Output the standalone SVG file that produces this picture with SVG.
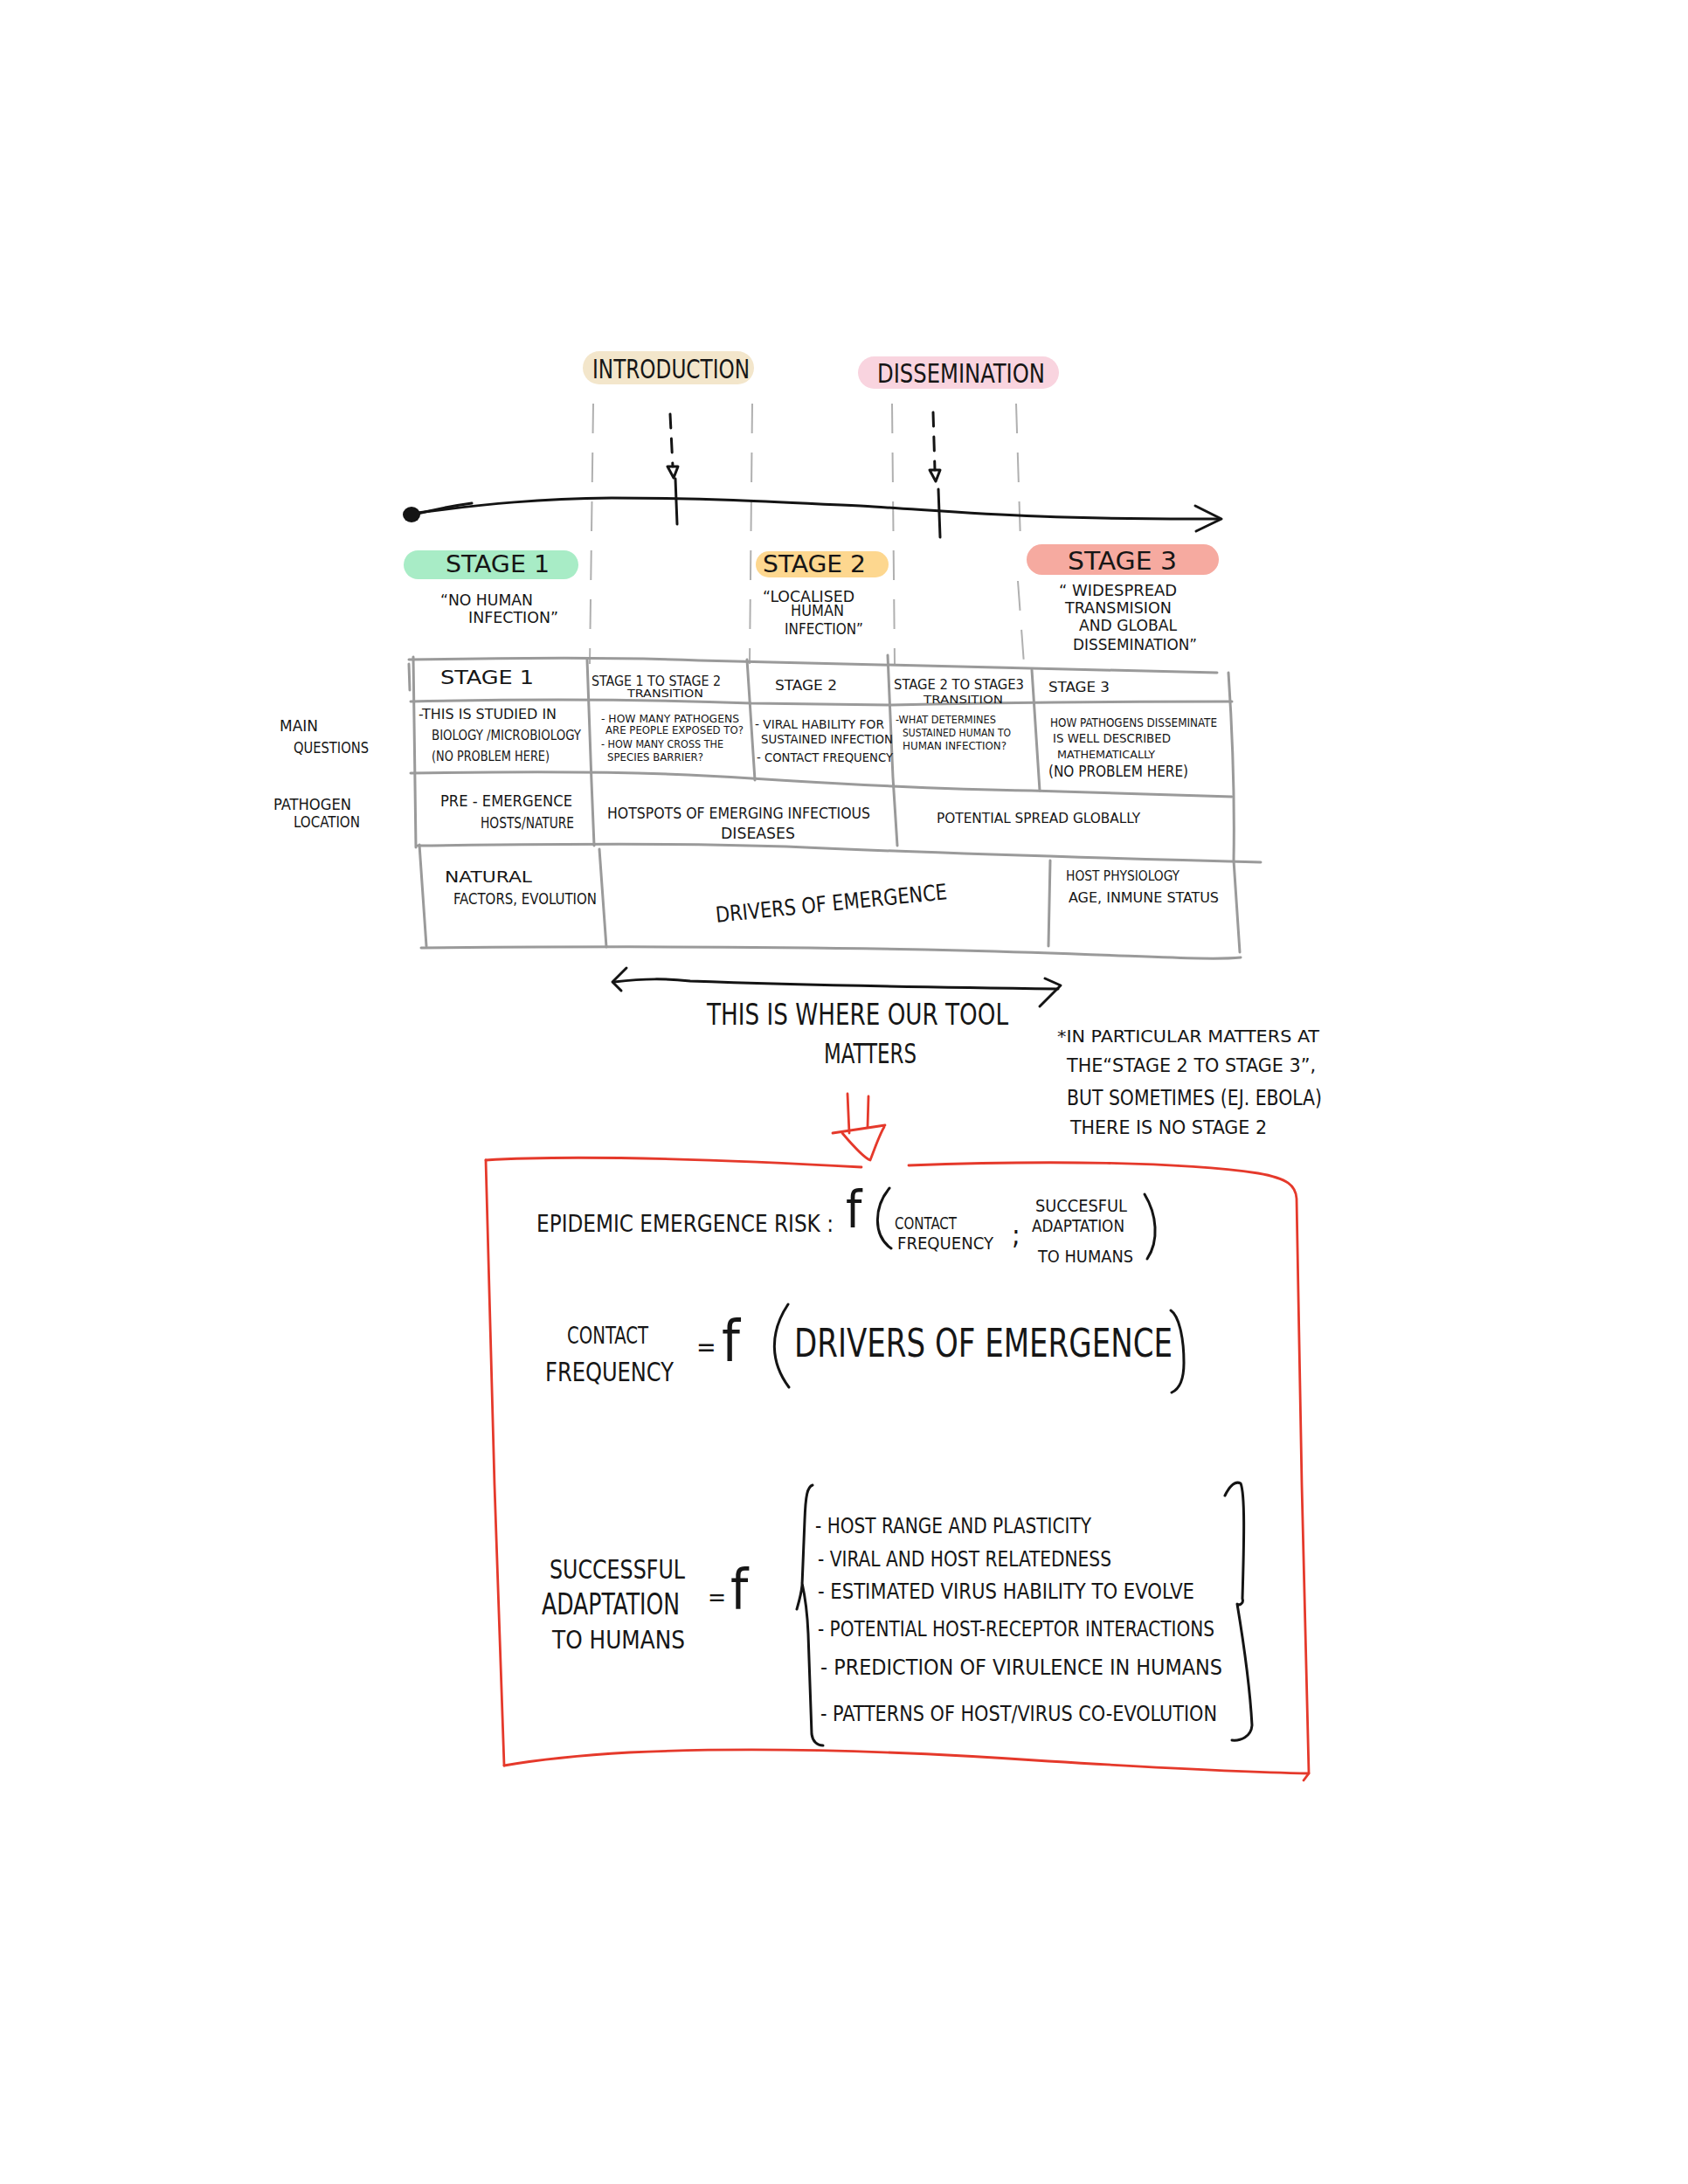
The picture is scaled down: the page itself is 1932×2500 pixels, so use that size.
<svg xmlns="http://www.w3.org/2000/svg" width="1932" height="2500" viewBox="0 0 1932 2500">
<defs>
<style>
.t{font-family:"Liberation Sans Narrow","DejaVu Sans Condensed","Liberation Sans",sans-serif;fill:#161616;}
.grid{fill:none;stroke:#9a9a9a;stroke-width:3;stroke-linecap:round;stroke-linejoin:round;}
.dash{fill:none;stroke:#b0b0b0;stroke-width:2;stroke-dasharray:34 22;}
.ink{fill:none;stroke:#141414;stroke-width:3;stroke-linecap:round;stroke-linejoin:round;}
.red{fill:none;stroke:#e5392b;stroke-width:2.8;stroke-linecap:round;stroke-linejoin:round;}
.pill{stroke:none;}
</style>
</defs>
<rect width="1932" height="2500" fill="#ffffff"/>

<g id="connectors">
  <!-- dashed phase guides -->
  <path class="dash" d="M679,462 L675,760"/>
  <path class="dash" d="M861,462 L858,760"/>
  <path class="dash" d="M1021,462 L1024,760"/>
  <path class="dash" d="M1163,462 L1168,620 M1165,665 L1172,760"/>
  <!-- timeline -->
  <path class="ink" d="M470,588 C560,576 620,571 700,570 C820,570 900,575 1000,580 C1100,586 1180,595 1396,594" stroke-width="3.5"/>
  <path class="ink" d="M470,590 C490,585 510,580 540,576" stroke-width="6"/>
  <ellipse cx="471" cy="589" rx="10" ry="9" fill="#141414"/>
  <path class="ink" d="M1368,579 L1398,594 L1369,608"/>
  <path class="ink" d="M773,548 L775,600"/>
  <path class="ink" d="M1074,560 L1076,615"/>
  <!-- dashed markers -->
  <path class="ink" d="M767,474 L770,534" stroke-dasharray="16 12" stroke-width="2.5"/>
  <path class="ink" d="M764,534 L776,534 L771,547 Z" stroke-width="2.2"/>
  <path class="ink" d="M1068,472 L1070,538" stroke-dasharray="16 12" stroke-width="2.5"/>
  <path class="ink" d="M1064,538 L1076,538 L1071,551 Z" stroke-width="2.2"/>
  <!-- table grid -->
  <path class="grid" d="M468,755 C600,753 700,752 800,756 C950,760 1100,762 1393,770"/>
  <path class="grid" d="M470,803 C650,799 780,802 860,805 L1020,807 C1200,803 1320,803 1410,803"/>
  <path class="grid" d="M470,885 C650,882 760,884 860,891 C1000,900 1100,904 1180,905 L1410,912"/>
  <path class="grid" d="M478,968 C650,966 780,965 900,969 C1050,976 1250,982 1443,987"/>
  <path class="grid" d="M482,1085 C700,1083 900,1083 1100,1088 C1300,1093 1380,1100 1420,1096"/>
  <path class="grid" d="M473,752 L476,970 M468,760 L469,790"/>
  <path class="grid" d="M480,967 L488,1083"/>
  <path class="grid" d="M1406,770 C1412,860 1413,930 1412,985 L1419,1090"/>
  <path class="grid" d="M672,755 L677,895 L680,968"/>
  <path class="grid" d="M686,972 L694,1084"/>
  <path class="grid" d="M855,755 L864,893"/>
  <path class="grid" d="M1016,750 L1022,890 L1027,968"/>
  <path class="grid" d="M1181,767 L1190,905"/>
  <path class="grid" d="M1202,985 L1200,1083"/>
  <!-- double arrow -->
  <path class="ink" d="M703,1124 C740,1120 760,1120 790,1123 C900,1127 1050,1130 1211,1132"/>
  <path class="ink" d="M717,1108 L701,1124 L711,1134"/>
  <path class="ink" d="M1196,1120 L1214,1128 L1190,1152"/>
  <!-- red arrow -->
  <path class="red" d="M970,1252 L972,1297 M994,1255 L993,1290"/>
  <path class="red" d="M953,1297 L1013,1288"/>
  <path class="red" d="M964,1297 C975,1310 988,1325 996,1328 C1000,1318 1006,1300 1012,1290"/>
  <!-- red box -->
  <path class="red" d="M556,1328 C650,1322 800,1326 986,1336"/>
  <path class="red" d="M1040,1334 C1200,1328 1350,1330 1440,1343 C1474,1349 1483,1357 1484,1372 L1490,1700 L1498,2030 L1492,2038"/>
  <path class="red" d="M1498,2030 C1400,2028 1300,2022 1200,2016 C1000,2002 850,2000 720,2006 C650,2010 600,2017 577,2021"/>
  <path class="red" d="M556,1328 L566,1700 L577,2021"/>
  <!-- brackets -->
  <path class="ink" d="M1018,1360 C1000,1382 999,1414 1020,1429" stroke-width="2.5"/>
  <path class="ink" d="M1310,1367 C1324,1390 1327,1420 1313,1441" stroke-width="2.5"/>
  <path class="ink" d="M902,1493 C880,1526 882,1560 903,1588" stroke-width="2.5"/>
  <path class="ink" d="M1340,1500 C1349,1506 1355,1530 1355,1560 C1355,1580 1350,1590 1341,1594" stroke-width="2.5"/>
  <path class="ink" d="M930,1700 C924,1702 922,1712 921,1740 L918,1815 C917,1825 914,1835 912,1842 M918,1812 C922,1830 924,1845 925,1870 L929,1985 C930,1993 935,1998 942,1998" stroke-width="2.5"/>
  <path class="ink" d="M1402,1712 C1408,1700 1414,1695 1420,1698 C1425,1710 1424,1760 1422,1830 C1424,1836 1418,1838 1416,1836 C1420,1860 1430,1920 1433,1975 C1432,1988 1420,1993 1410,1992" stroke-width="2.5"/>
</g>

<g id="phase-introduction">
  <rect class="pill" x="667" y="402" width="196" height="38" rx="19" fill="#f3e6cb"/>
  <text class="t" x="678" y="433" font-size="30" textLength="180" lengthAdjust="spacingAndGlyphs">INTRODUCTION</text>
</g>
<g id="phase-dissemination">
  <rect class="pill" x="982" y="408" width="230" height="37" rx="18.5" fill="#f9d4df"/>
  <text class="t" x="1004" y="438" font-size="31" textLength="192" lengthAdjust="spacingAndGlyphs">DISSEMINATION</text>
</g>

<g id="stage1">
  <rect class="pill" x="462" y="630" width="200" height="33" rx="16.5" fill="#a8ecc6"/>
  <text class="t" x="510" y="655" font-size="26" textLength="119" lengthAdjust="spacingAndGlyphs">STAGE 1</text>
  <text class="t" x="504" y="693" font-size="17" textLength="106" lengthAdjust="spacingAndGlyphs">“NO HUMAN</text>
  <text class="t" x="536" y="713" font-size="17" textLength="103" lengthAdjust="spacingAndGlyphs">INFECTION”</text>
</g>
<g id="stage2">
  <rect class="pill" x="865" y="631" width="152" height="30" rx="15" fill="#fdd78f"/>
  <text class="t" x="873" y="655" font-size="26" textLength="118" lengthAdjust="spacingAndGlyphs">STAGE 2</text>
  <text class="t" x="873" y="689" font-size="17" textLength="105" lengthAdjust="spacingAndGlyphs">“LOCALISED</text>
  <text class="t" x="905" y="705" font-size="17" textLength="61" lengthAdjust="spacingAndGlyphs">HUMAN</text>
  <text class="t" x="898" y="726" font-size="17" textLength="90" lengthAdjust="spacingAndGlyphs">INFECTION”</text>
</g>
<g id="stage3">
  <rect class="pill" x="1175" y="623" width="220" height="35" rx="17.5" fill="#f6aaa0"/>
  <text class="t" x="1222" y="652" font-size="28" textLength="125" lengthAdjust="spacingAndGlyphs">STAGE 3</text>
  <text class="t" x="1212" y="682" font-size="17" textLength="135" lengthAdjust="spacingAndGlyphs">“ WIDESPREAD</text>
  <text class="t" x="1219" y="702" font-size="17" textLength="122" lengthAdjust="spacingAndGlyphs">TRANSMISION</text>
  <text class="t" x="1235" y="722" font-size="17" textLength="112" lengthAdjust="spacingAndGlyphs">AND GLOBAL</text>
  <text class="t" x="1228" y="744" font-size="17" textLength="142" lengthAdjust="spacingAndGlyphs">DISSEMINATION”</text>
</g>

<g id="table-labels">
  <text class="t" x="320" y="837" font-size="18" textLength="44" lengthAdjust="spacingAndGlyphs">MAIN</text>
  <text class="t" x="336" y="862" font-size="18" textLength="86" lengthAdjust="spacingAndGlyphs">QUESTIONS</text>
  <text class="t" x="313" y="927" font-size="18" textLength="89" lengthAdjust="spacingAndGlyphs">PATHOGEN</text>
  <text class="t" x="336" y="947" font-size="18" textLength="76" lengthAdjust="spacingAndGlyphs">LOCATION</text>
</g>

<g id="table-header">
  <text class="t" x="504" y="783" font-size="22" textLength="107" lengthAdjust="spacingAndGlyphs">STAGE 1</text>
  <text class="t" x="677" y="785" font-size="16" textLength="148" lengthAdjust="spacingAndGlyphs">STAGE 1 TO STAGE 2</text>
  <text class="t" x="718" y="798" font-size="13" textLength="87" lengthAdjust="spacingAndGlyphs">TRANSITION</text>
  <text class="t" x="887" y="790" font-size="16" textLength="71" lengthAdjust="spacingAndGlyphs">STAGE 2</text>
  <text class="t" x="1023" y="789" font-size="16" textLength="149" lengthAdjust="spacingAndGlyphs">STAGE 2 TO STAGE3</text>
  <text class="t" x="1057" y="805" font-size="13" textLength="91" lengthAdjust="spacingAndGlyphs">TRANSITION</text>
  <text class="t" x="1200" y="792" font-size="16" textLength="70" lengthAdjust="spacingAndGlyphs">STAGE 3</text>
</g>

<g id="table-questions">
  <text class="t" x="479" y="823" font-size="15" textLength="158" lengthAdjust="spacingAndGlyphs">-THIS IS STUDIED IN</text>
  <text class="t" x="494" y="847" font-size="15" textLength="171" lengthAdjust="spacingAndGlyphs">BIOLOGY /MICROBIOLOGY</text>
  <text class="t" x="494" y="871" font-size="15" textLength="135" lengthAdjust="spacingAndGlyphs">(NO PROBLEM HERE)</text>
  <text class="t" x="688" y="827" font-size="12" textLength="158" lengthAdjust="spacingAndGlyphs">- HOW MANY PATHOGENS</text>
  <text class="t" x="693" y="840" font-size="12" textLength="158" lengthAdjust="spacingAndGlyphs">ARE PEOPLE EXPOSED TO?</text>
  <text class="t" x="688" y="856" font-size="12" textLength="140" lengthAdjust="spacingAndGlyphs">- HOW MANY CROSS THE</text>
  <text class="t" x="695" y="871" font-size="12" textLength="110" lengthAdjust="spacingAndGlyphs">SPECIES BARRIER?</text>
  <text class="t" x="864" y="834" font-size="14" textLength="148" lengthAdjust="spacingAndGlyphs">- VIRAL HABILITY FOR</text>
  <text class="t" x="871" y="851" font-size="14" textLength="151" lengthAdjust="spacingAndGlyphs">SUSTAINED INFECTION</text>
  <text class="t" x="866" y="872" font-size="14" textLength="156" lengthAdjust="spacingAndGlyphs">- CONTACT FREQUENCY</text>
  <text class="t" x="1025" y="828" font-size="12" textLength="115" lengthAdjust="spacingAndGlyphs">-WHAT DETERMINES</text>
  <text class="t" x="1033" y="843" font-size="12" textLength="124" lengthAdjust="spacingAndGlyphs">SUSTAINED HUMAN TO</text>
  <text class="t" x="1033" y="858" font-size="12" textLength="119" lengthAdjust="spacingAndGlyphs">HUMAN INFECTION?</text>
  <text class="t" x="1202" y="832" font-size="14" textLength="191" lengthAdjust="spacingAndGlyphs">HOW PATHOGENS DISSEMINATE</text>
  <text class="t" x="1205" y="850" font-size="14" textLength="135" lengthAdjust="spacingAndGlyphs">IS WELL DESCRIBED</text>
  <text class="t" x="1210" y="868" font-size="12" textLength="112" lengthAdjust="spacingAndGlyphs">MATHEMATICALLY</text>
  <text class="t" x="1200" y="889" font-size="18" textLength="160" lengthAdjust="spacingAndGlyphs">(NO PROBLEM HERE)</text>
</g>

<g id="table-location">
  <text class="t" x="504" y="923" font-size="17" textLength="151" lengthAdjust="spacingAndGlyphs">PRE - EMERGENCE</text>
  <text class="t" x="550" y="948" font-size="17" textLength="107" lengthAdjust="spacingAndGlyphs">HOSTS/NATURE</text>
  <text class="t" x="695" y="937" font-size="18" textLength="301" lengthAdjust="spacingAndGlyphs">HOTSPOTS OF EMERGING INFECTIOUS</text>
  <text class="t" x="825" y="960" font-size="17" textLength="85" lengthAdjust="spacingAndGlyphs">DISEASES</text>
  <text class="t" x="1072" y="942" font-size="15" textLength="233" lengthAdjust="spacingAndGlyphs">POTENTIAL SPREAD GLOBALLY</text>
</g>

<g id="table-drivers">
  <text class="t" x="509" y="1010" font-size="17" textLength="100" lengthAdjust="spacingAndGlyphs">NATURAL</text>
  <text class="t" x="519" y="1035" font-size="17" textLength="164" lengthAdjust="spacingAndGlyphs">FACTORS, EVOLUTION</text>
  <text class="t" x="820" y="1056" font-size="25" textLength="266" lengthAdjust="spacingAndGlyphs" transform="rotate(-5.8 820 1056)">DRIVERS OF EMERGENCE</text>
  <text class="t" x="1220" y="1008" font-size="16" textLength="130" lengthAdjust="spacingAndGlyphs">HOST PHYSIOLOGY</text>
  <text class="t" x="1223" y="1033" font-size="16" textLength="172" lengthAdjust="spacingAndGlyphs">AGE, INMUNE STATUS</text>
</g>

<g id="tool-scope">
  <text class="t" x="809" y="1173" font-size="34" textLength="345" lengthAdjust="spacingAndGlyphs">THIS IS WHERE OUR TOOL</text>
  <text class="t" x="943" y="1217" font-size="32" textLength="106" lengthAdjust="spacingAndGlyphs">MATTERS</text>
</g>

<g id="note">
  <text class="t" x="1210" y="1193" font-size="20" textLength="300" lengthAdjust="spacingAndGlyphs">*IN PARTICULAR MATTERS AT</text>
  <text class="t" x="1221" y="1227" font-size="22" textLength="285" lengthAdjust="spacingAndGlyphs">THE“STAGE 2 TO STAGE 3”,</text>
  <text class="t" x="1221" y="1265" font-size="24" textLength="292" lengthAdjust="spacingAndGlyphs">BUT SOMETIMES (EJ. EBOLA)</text>
  <text class="t" x="1225" y="1298" font-size="22" textLength="225" lengthAdjust="spacingAndGlyphs">THERE IS NO STAGE 2</text>
</g>

<g id="eq-risk">
  <text class="t" x="614" y="1410" font-size="27" textLength="340" lengthAdjust="spacingAndGlyphs">EPIDEMIC EMERGENCE RISK :</text>
  <text class="t" x="968" y="1405" font-size="58">f</text>
  <text class="t" x="1024" y="1407" font-size="20" textLength="71" lengthAdjust="spacingAndGlyphs">CONTACT</text>
  <text class="t" x="1027" y="1430" font-size="20" textLength="110" lengthAdjust="spacingAndGlyphs">FREQUENCY</text>
  <text class="t" x="1158" y="1424" font-size="32">;</text>
  <text class="t" x="1185" y="1387" font-size="20" textLength="105" lengthAdjust="spacingAndGlyphs">SUCCESFUL</text>
  <text class="t" x="1181" y="1410" font-size="20" textLength="106" lengthAdjust="spacingAndGlyphs">ADAPTATION</text>
  <text class="t" x="1188" y="1445" font-size="20" textLength="109" lengthAdjust="spacingAndGlyphs">TO HUMANS</text>
</g>

<g id="eq-contact">
  <text class="t" x="649" y="1538" font-size="27" textLength="93" lengthAdjust="spacingAndGlyphs">CONTACT</text>
  <text class="t" x="624" y="1581" font-size="30" textLength="147" lengthAdjust="spacingAndGlyphs">FREQUENCY</text>
  <text class="t" x="797" y="1552" font-size="30">=</text>
  <text class="t" x="826" y="1558" font-size="66">f</text>
  <text class="t" x="909" y="1553" font-size="44" textLength="433" lengthAdjust="spacingAndGlyphs">DRIVERS OF EMERGENCE</text>
</g>

<g id="eq-adaptation">
  <text class="t" x="629" y="1807" font-size="31" textLength="155" lengthAdjust="spacingAndGlyphs">SUCCESSFUL</text>
  <text class="t" x="620" y="1848" font-size="34" textLength="158" lengthAdjust="spacingAndGlyphs">ADAPTATION</text>
  <text class="t" x="632" y="1887" font-size="28" textLength="152" lengthAdjust="spacingAndGlyphs">TO HUMANS</text>
  <text class="t" x="810" y="1838" font-size="28">=</text>
  <text class="t" x="836" y="1842" font-size="64">f</text>
  <text class="t" x="933" y="1755" font-size="24" textLength="316" lengthAdjust="spacingAndGlyphs">- HOST RANGE AND PLASTICITY</text>
  <text class="t" x="936" y="1793" font-size="24" textLength="336" lengthAdjust="spacingAndGlyphs">- VIRAL AND HOST RELATEDNESS</text>
  <text class="t" x="936" y="1830" font-size="24" textLength="431" lengthAdjust="spacingAndGlyphs">- ESTIMATED VIRUS HABILITY TO EVOLVE</text>
  <text class="t" x="936" y="1873" font-size="24" textLength="454" lengthAdjust="spacingAndGlyphs">- POTENTIAL HOST-RECEPTOR INTERACTIONS</text>
  <text class="t" x="939" y="1917" font-size="24" textLength="460" lengthAdjust="spacingAndGlyphs">- PREDICTION OF VIRULENCE IN HUMANS</text>
  <text class="t" x="939" y="1970" font-size="24" textLength="454" lengthAdjust="spacingAndGlyphs">- PATTERNS OF HOST/VIRUS CO-EVOLUTION</text>
</g>
</svg>
